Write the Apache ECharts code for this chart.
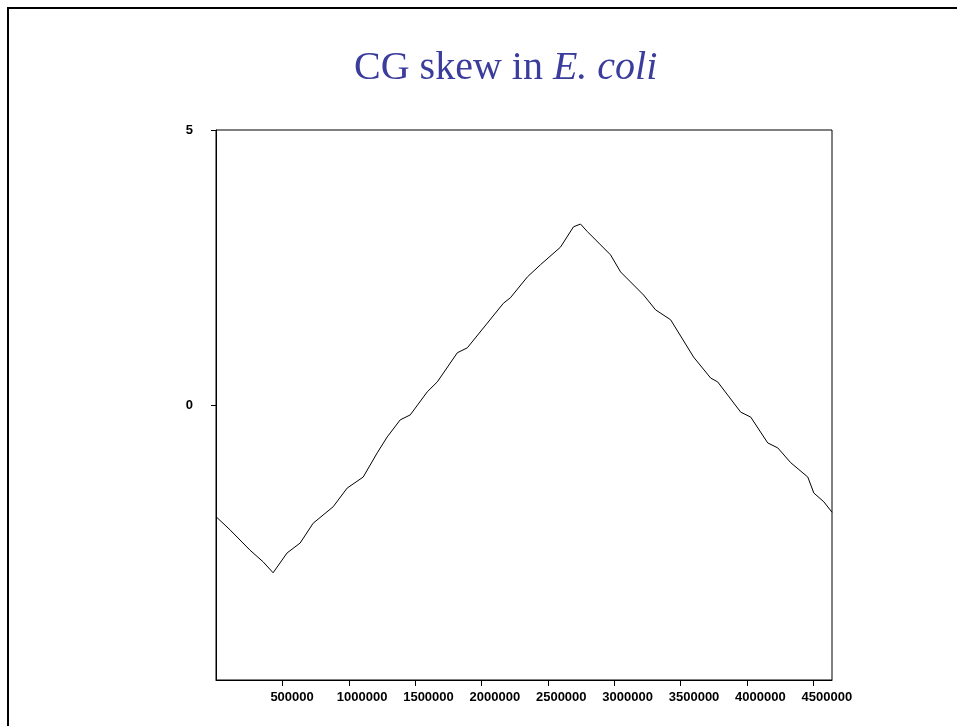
<!DOCTYPE html>
<html>
<head>
<meta charset="utf-8">
<script src="https://cdn.jsdelivr.net/npm/echarts@6/dist/echarts.min.js"></script>
<style>
  body { margin: 0; background: #fff; }
  #chart { position: absolute; left: 0; top: 0; width: 957px; height: 726px; }
  #frame { position: absolute; left: 7px; top: 7px; right: 0; bottom: 0;
           border-left: 2px solid #000; border-top: 2px solid #000; pointer-events: none; }
</style>
</head>
<body>
<div id="chart"></div>
<div id="frame"></div>
<script>
// genome position (bp) and cumulative CG skew
var positions = [0, 105600, 256400, 354400, 429900, 535400, 633500, 731500, 882400, 987900,
  1108600, 1214200, 1289600, 1387600, 1463000, 1591300, 1666700, 1817500, 1892900, 2043800,
  2164400, 2217200, 2345400, 2443400, 2594300, 2692300, 2745100, 2797900, 2971300, 3046800,
  3220200, 3310700, 3423800, 3597300, 3725500, 3778300, 3951700, 4027100, 4155300, 4230800,
  4328800, 4457000, 4502300, 4577700, 4639221];
var skew = [-2.03, -2.27, -2.64, -2.85, -3.05, -2.69, -2.51, -2.15, -1.85, -1.51,
  -1.31, -0.87, -0.58, -0.27, -0.18, 0.24, 0.42, 0.95, 1.04, 1.49,
  1.85, 1.95, 2.33, 2.55, 2.87, 3.24, 3.29, 3.15, 2.73, 2.42,
  2.00, 1.73, 1.55, 0.87, 0.49, 0.42, -0.13, -0.22, -0.69, -0.78,
  -1.05, -1.31, -1.60, -1.76, -1.95];
var genomeLength = 4639221;
var xStep = 500000;
var yRange = [-5, 5];

var chart = echarts.init(document.getElementById('chart'), null, {renderer: 'canvas'});

var option = {
  animation: false,
  backgroundColor: 'transparent',
  title: {
    text: '{a|CG skew in }{b|E. coli}',
    left: 349,
    top: 43,
    textStyle: {
      fontWeight: 'normal',
      rich: {
        a: {fontFamily: 'Liberation Serif', fontSize: 40, fontWeight: 'normal', color: '#3b3d9c'},
        b: {fontFamily: 'Liberation Serif', fontSize: 40, fontWeight: 'normal', fontStyle: 'italic', color: '#3b3d9c'}
      }
    }
  },
  grid: {
    left: 216, top: 130, right: 125, bottom: 46,
    show: true, borderColor: '#000', borderWidth: 1
  },
  xAxis: {
    type: 'value',
    min: 0,
    max: genomeLength,
    interval: xStep,
    axisLine: {show: true, onZero: false, lineStyle: {color: '#000', width: 1}},
    axisTick: {show: true, length: 6, lineStyle: {color: '#000'}},
    splitLine: {show: false},
    axisLabel: {
      showMinLabel: false,
      showMaxLabel: false,
      margin: 11,
      align: 'left',
      padding: [0, 0, 0, -12],
      color: '#000',
      fontFamily: 'Liberation Sans',
      fontWeight: 'bold',
      fontSize: 13,
      formatter: function (v) { return String(v); }
    }
  },
  yAxis: {
    type: 'value',
    min: yRange[0],
    max: yRange[1],
    interval: 5,
    axisLine: {show: true, onZero: false, lineStyle: {color: '#000', width: 1}},
    axisTick: {show: true, length: 5, lineStyle: {color: '#000'}},
    splitLine: {show: false},
    axisLabel: {
      showMinLabel: false,
      margin: 23,
      color: '#000',
      fontFamily: 'Liberation Sans',
      fontWeight: 'bold',
      fontSize: 13
    }
  },
  series: [{
    type: 'line',
    data: positions.map(function (p, i) { return [p, skew[i]]; }),
    showSymbol: false,
    smooth: false,
    lineStyle: {color: '#000', width: 1}
  }]
};

chart.setOption(option);
</script>
</body>
</html>
